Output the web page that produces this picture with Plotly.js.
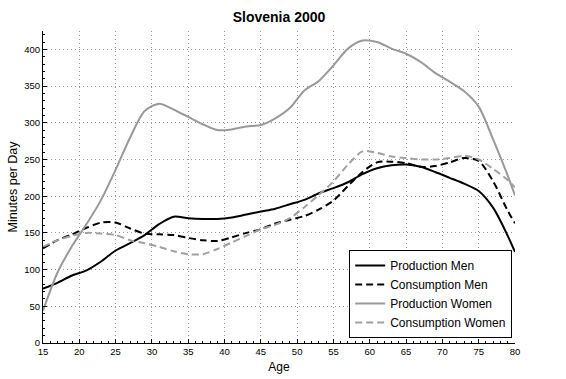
<!DOCTYPE html>
<html>
<head>
<meta charset="utf-8">
<script src="https://cdn.plot.ly/plotly-3.0.1.min.js"></script>
<style>html,body{margin:0;padding:0;background:#fff;}#chart{width:566px;height:379px;}</style>
</head>
<body>
<div id="chart"></div>
<script>
var ages = [15,17,19,21,23,25,27,29,31,33,35,37,39,41,43,45,47,49,51,53,55,57,59,61,63,65,67,69,71,73,75,77,79,80];
var productionMen = [74,82,92,99,111,126,136,147,162,172,170,169,169,171,175,179,183,189,195,204,211,219,230,238,242,243,240,233,225,217,207,184,146,124];
var consumptionMen = [129,140,148,157,164,164,156,149,148,147,143,140,139,144,150,155,163,168,173,182,194,214,233,246,247,245,240,241,246,252,248,220,180,163];
var productionWomen = [44,96,132,162,195,236,280,316,326,318,308,298,290,291,295,297,306,320,344,357,378,401,412,410,401,394,383,368,356,343,322,277,228,201];
var consumptionWomen = [131,140,146,150,149,147,140,136,131,125,121,121,128,137,146,155,161,170,185,202,220,243,261,259,254,252,250,250,252,255,250,237,222,212];
var seriesNames = ["Production Men","Consumption Men","Production Women","Consumption Women"];
var xTicks = [15,20,25,30,35,40,45,50,55,60,65,70,75,80];
var yTicks = [0,50,100,150,200,250,300,350,400];

var FONT = "Liberation Sans, Arial, Helvetica, sans-serif";
var styles = [
  {color:"#000000", dash:"solid"},
  {color:"#000000", dash:"7px,4px"},
  {color:"#999999", dash:"solid"},
  {color:"#a0a0a0", dash:"7px,4px"}
];
var values = [productionMen, consumptionMen, productionWomen, consumptionWomen];
var data = values.map(function(v, i){
  return {
    x: ages, y: v, type: "scatter", mode: "lines", name: seriesNames[i],
    line: {color: styles[i].color, width: 2, dash: styles[i].dash, shape: "spline", smoothing: 0.8}
  };
});

var layout = {
  width: 566, height: 379,
  margin: {l: 43, r: 51, t: 31, b: 36},
  paper_bgcolor: "#ffffff", plot_bgcolor: "#ffffff",
  font: {family: FONT, size: 10, color: "#000"},
  title: {text: "<b>Slovenia 2000</b>", font: {family: FONT, size: 14, color: "#000"},
          x: 0.5, xref: "paper", y: 1 - 17/379, yref: "container", yanchor: "middle"},
  xaxis: {
    range: [15, 80], tickvals: xTicks, ticktext: xTicks.map(String),
    showline: true, linecolor: "#000", linewidth: 1, mirror: false,
    ticks: "inside", ticklen: 4, tickcolor: "#000",
    showgrid: true, gridcolor: "#999", griddash: "1px,3px", gridwidth: 1,
    zeroline: false, tickfont: {size: 9.5},
    minor: {dtick: 1, ticks: "inside", ticklen: 2, tickcolor: "#000", showgrid: false},
    title: {text: "Age", font: {size: 12}, standoff: 6}
  },
  yaxis: {
    range: [0, 425], tickvals: yTicks, ticktext: yTicks.map(String),
    showline: true, linecolor: "#000", linewidth: 1, mirror: false,
    ticks: "inside", ticklen: 4, tickcolor: "#000",
    showgrid: true, gridcolor: "#999", griddash: "1px,3px", gridwidth: 1,
    zeroline: false, tickfont: {size: 9.5},
    minor: {dtick: 10, ticks: "inside", ticklen: 2, tickcolor: "#000", showgrid: false},
    title: {text: "Minutes per Day", font: {size: 12.5}, standoff: 3}
  },
  showlegend: true,
  legend: {
    x: 0.994, xanchor: "right", y: 0.016, yanchor: "bottom",
    bgcolor: "#ffffff", bordercolor: "#000", borderwidth: 1,
    font: {family: FONT, size: 12, color: "#000"},
    tracegroupgap: 0, itemwidth: 30
  }
};

Plotly.newPlot("chart", data, layout, {displayModeBar: false, staticPlot: true});
</script>
</body>
</html>
